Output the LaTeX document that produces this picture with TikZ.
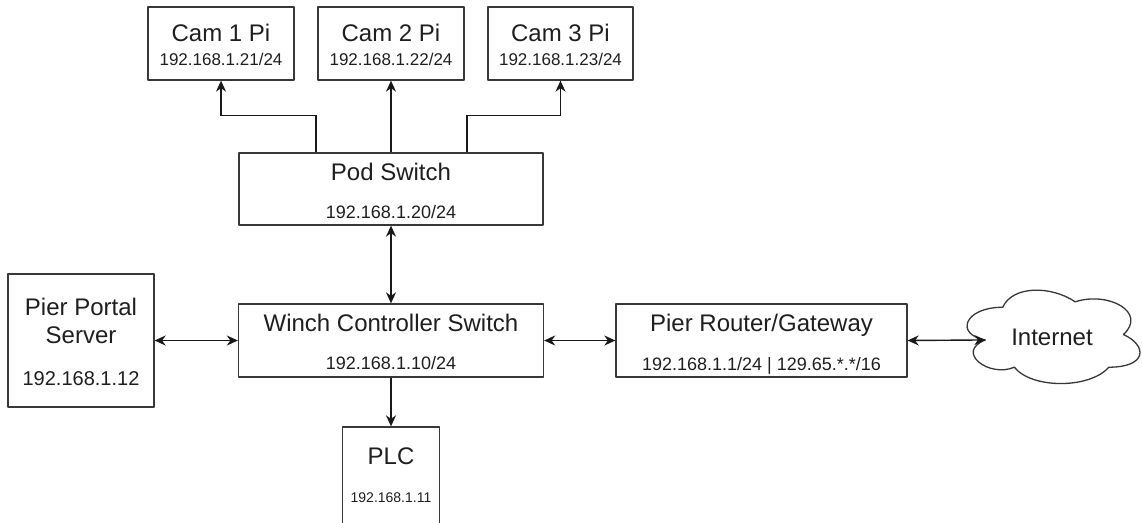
\documentclass[tikz,border=0pt]{standalone}
\usepackage{fontspec}
\setmainfont{Liberation Sans}
\usetikzlibrary{arrows.meta,calc}
\tikzset{
  box/.style={draw=black!78, line width=1.3pt, fill=white, inner sep=0pt, line join=round},
  ttl/.style={font=\fontsize{24}{28}\selectfont, text=black!88, inner sep=0pt, text depth=0pt},
  ipbig/.style={font=\fontsize{20}{24}\selectfont, text=black!88, inner sep=0pt, text depth=0pt},
  ipmid/.style={font=\fontsize{18}{22}\selectfont, text=black!88, inner sep=0pt, text depth=0pt},
  ipcam/.style={font=\fontsize{17}{21}\selectfont, text=black!88, inner sep=0pt, text depth=0pt},
  ipsmall/.style={font=\fontsize{14}{17}\selectfont, text=black!88, inner sep=0pt, text depth=0pt},
  wire/.style={draw=black!90, line width=1.4pt},
  onehead/.style={-{Stealth[length=11pt,width=10pt,inset=3.5pt]}},
  twohead/.style={{Stealth[length=11pt,width=10pt,inset=3.5pt]}-{Stealth[length=11pt,width=10pt,inset=3.5pt]}}
}
\begin{document}
\begin{tikzpicture}[x=1pt,y=-1pt]
\useasboundingbox (0,0) rectangle (1142,522);
\fill[white] (0,0) rectangle (1142,522);
\clip (0,0) rectangle (1142,522);

% camera nodes
\node[box, minimum width=146pt, minimum height=73pt] (cam1) at (221,43.5) {};
\node[box, minimum width=146pt, minimum height=73pt] (cam2) at (391,43.5) {};
\node[box, minimum width=145pt, minimum height=73pt] (cam3) at (560.5,43.5) {};
\node[ttl]   at ($(cam1.north)+(0,26)$) {Cam 1 Pi};
\node[ipcam] at ($(cam1.north)+(0,53)$) {192.168.1.21/24};
\node[ttl]   at ($(cam2.north)+(0,26)$) {Cam 2 Pi};
\node[ipcam] at ($(cam2.north)+(0,53)$) {192.168.1.22/24};
\node[ttl]   at ($(cam3.north)+(0,26)$) {Cam 3 Pi};
\node[ipcam] at ($(cam3.north)+(0,53)$) {192.168.1.23/24};

% switches
\node[box, minimum width=304pt, minimum height=72pt] (pod) at (391,189) {};
\node[ttl]   at ($(pod.north)+(0,19)$) {Pod Switch};
\node[ipmid] at ($(pod.north)+(0,60)$) {192.168.1.20/24};

\node[box, minimum width=305pt, minimum height=73pt] (winch) at (391,340.5) {};
\node[ttl]   at ($(winch.north)+(0,19)$) {Winch Controller Switch};
\node[ipmid] at ($(winch.north)+(0,60)$) {192.168.1.10/24};

% server, PLC, router
\node[box, minimum width=146pt, minimum height=133pt] (server) at (81,340.5) {};
\node[ttl]   at ($(server.north)+(0,33)$) {Pier Portal};
\node[ttl]   at ($(server.north)+(0,62)$) {Server};
\node[ipbig] at ($(server.north)+(0,105)$) {192.168.1.12};

\node[box, minimum width=97pt, minimum height=110pt] (plc) at (391,482) {};
\node[ttl]     at ($(plc.north)+(0,30)$) {PLC};
\node[ipsmall] at ($(plc.north)+(0,71)$) {192.168.1.11};

\node[box, minimum width=291pt, minimum height=73pt] (router) at (761.5,340.5) {};
\node[ttl]   at ($(router.north)+(0,19)$) {Pier Router/Gateway};
\node[ipmid] at ($(router.north)+(0,61)$) {192.168.1.1/24 | 129.65.*.*/16};

% internet cloud
\begin{scope}[shift={(954.5,280)}, x=193pt, y=-109pt]
  \draw[box] (0.25,0.25) .. controls (0.05,0.25) and (0,0.5) .. (0.16,0.55)
    .. controls (0,0.66) and (0.18,0.9) .. (0.31,0.8)
    .. controls (0.4,1) and (0.7,1) .. (0.8,0.8)
    .. controls (1,0.8) and (1,0.6) .. (0.875,0.5)
    .. controls (1,0.3) and (0.8,0.1) .. (0.625,0.2)
    .. controls (0.5,0.05) and (0.3,0.05) .. (0.25,0.25) -- cycle;
  \coordinate (inetL) at (0.16,0.55);
  \node[ttl] (inet) at (0.505,0.523) {Internet};
\end{scope}

% links
\draw[wire, onehead] ($(pod.north)+(-75,0)$) -- ++(0,-37) -| (cam1.south);
\draw[wire, onehead] (pod.north) -- (cam2.south);
\draw[wire, onehead] ($(pod.north)+(76,0)$) -- ++(0,-37) -| (cam3.south);
\draw[wire, twohead] (winch.north) -- (pod.south);
\draw[wire, twohead] (server.east) -- (winch.west);
\draw[wire, onehead] (winch.south) -- (plc.north);
\draw[wire, twohead] (winch.east) -- (router.west);
\draw[wire, twohead] (router.east) -- (inetL);
\end{tikzpicture}
\end{document}
